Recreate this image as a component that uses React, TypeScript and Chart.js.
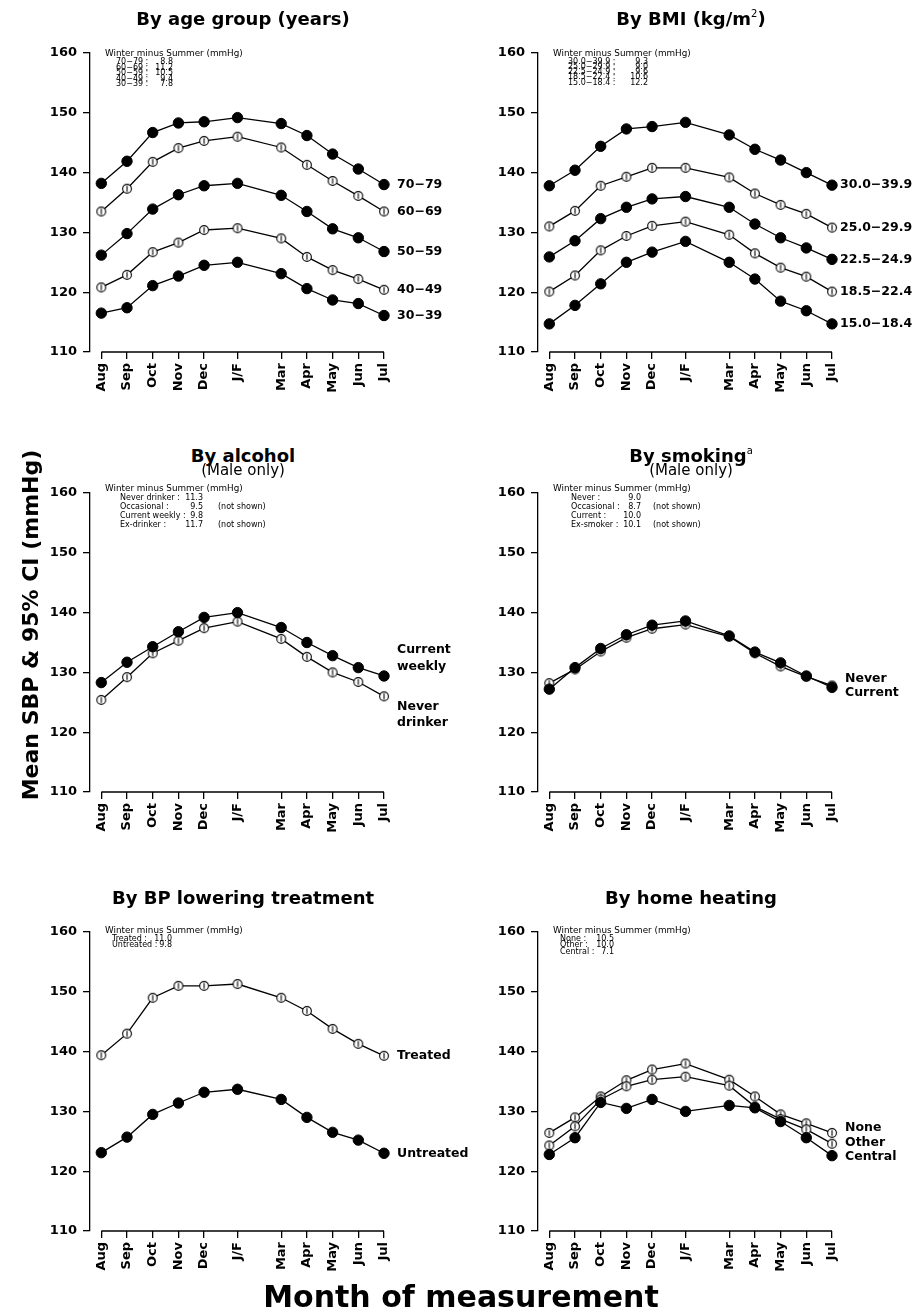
import React, { useEffect, useRef } from "react";
import { Chart, registerables } from "chart.js";

Chart.register(...registerables);

const FONT = "'DejaVu Sans', sans-serif";

// ---------- categories / ticks ----------
const months = ["Aug", "Sep", "Oct", "Nov", "Dec", "J/F", "Mar", "Apr", "May", "Jun", "Jul"];
const monthPos = [8, 9, 10, 11, 12, 13.3, 15, 16, 17, 18, 19];
const yTicks = [110, 120, 130, 140, 150, 160];

// ---------- by age group ----------
const age7079 = [138.2, 141.9, 146.7, 148.3, 148.5, 149.2, 148.2, 146.2, 143.1, 140.6, 138.0];
const age6069 = [133.5, 137.3, 141.8, 144.1, 145.3, 146.0, 144.2, 141.3, 138.6, 136.1, 133.5];
const age5059 = [126.2, 129.8, 133.9, 136.3, 137.8, 138.2, 136.2, 133.5, 130.6, 129.1, 126.8];
const age4049 = [120.8, 122.9, 126.7, 128.3, 130.4, 130.7, 129.0, 125.9, 123.7, 122.2, 120.4];
const age3039 = [116.5, 117.4, 121.1, 122.7, 124.5, 125.0, 123.1, 120.6, 118.7, 118.1, 116.1];
const ageDiff = [8.8, 11.2, 10.5, 9.4, 7.8];

// ---------- by BMI ----------
const bmi300 = [137.8, 140.4, 144.4, 147.3, 147.7, 148.4, 146.3, 143.9, 142.1, 140.0, 137.9];
const bmi250 = [131.0, 133.6, 137.8, 139.3, 140.8, 140.8, 139.2, 136.5, 134.6, 133.1, 130.8];
const bmi225 = [125.9, 128.6, 132.3, 134.2, 135.6, 136.0, 134.2, 131.4, 129.1, 127.4, 125.5];
const bmi185 = [120.1, 122.8, 127.0, 129.4, 131.1, 131.8, 129.6, 126.5, 124.1, 122.6, 120.1];
const bmi150 = [114.7, 117.8, 121.4, 125.0, 126.7, 128.5, 125.0, 122.2, 118.5, 116.9, 114.7];
const bmiDiff = [9.3, 9.0, 9.6, 10.6, 12.2];

// ---------- by alcohol ----------
const alcCurrentWeekly = [128.3, 131.7, 134.3, 136.8, 139.2, 140.0, 137.5, 135.0, 132.8, 130.8, 129.4];
const alcNeverDrinker = [125.4, 129.2, 133.2, 135.3, 137.4, 138.5, 135.6, 132.6, 130.0, 128.4, 126.0];
const alcDiff = [11.3, 9.5, 9.8, 11.7];

// ---------- by smoking ----------
const smkNever = [128.2, 130.5, 133.5, 135.8, 137.3, 138.0, 136.0, 133.2, 131.0, 129.3, 127.8];
const smkCurrent = [127.2, 130.8, 134.0, 136.3, 137.9, 138.6, 136.1, 133.4, 131.6, 129.4, 127.5];
const smkDiff = [9.0, 8.7, 10.0, 10.1];

// ---------- by BP lowering treatment ----------
const bpTreated = [139.4, 143.0, 149.0, 151.0, 151.0, 151.3, 149.0, 146.8, 143.8, 141.3, 139.3];
const bpUntreated = [123.1, 125.7, 129.5, 131.4, 133.2, 133.7, 132.0, 129.0, 126.5, 125.2, 123.0];
const bpDiff = [11.0, 9.8];

// ---------- by home heating ----------
const heatNone = [126.4, 129.0, 132.5, 135.2, 137.0, 138.0, 135.3, 132.5, 129.5, 128.0, 126.4];
const heatOther = [124.3, 127.5, 132.0, 134.2, 135.3, 135.8, 134.3, 130.8, 128.7, 127.0, 124.6];
const heatCentral = [122.8, 125.6, 131.5, 130.5, 132.0, 130.0, 131.0, 130.6, 128.3, 125.6, 122.6];
const heatDiff = [10.5, 10.0, 7.1];

// ---------- layout constants ----------
const COL_AXIS = [90, 538];
const ROW_TOP = [53, 492.5, 932];
const PLOT_H = 299;
const X_MIN = 7.56;
const X_MAX = 19.44;
const PX_PER_UNIT = 25.7;
const PLOT_W = (X_MAX - X_MIN) * PX_PER_UNIT;
const CANVAS_W = [530, 475];
const CANVAS_H = 390;
const TOP_PAD = 25;
const Y_AXIS_W = 44;
const X_AXIS_H = 60;

type Line = { values: number[]; filled: boolean };
type EndLabel = { text: string; at: number };
type NoteRow = { label: string; value: number; note?: string };
type Panel = {
  col: number;
  row: number;
  lines: Line[];
  endLabels: EndLabel[];
  endDx: number;
  rows: NoteRow[];
  labelDx: number;
  valDx: number;
  noteDx: number;
  headDy: number;
  rowDy: number;
  rowStep: number;
};

const last = (a: number[]) => a[a.length - 1];

const panels: Panel[] = [
  {
    col: 0, row: 0,
    lines: [
      { values: age7079, filled: true },
      { values: age6069, filled: false },
      { values: age5059, filled: true },
      { values: age4049, filled: false },
      { values: age3039, filled: true },
    ],
    endLabels: [
      { text: "70\u221279", at: last(age7079) },
      { text: "60\u221269", at: last(age6069) },
      { text: "50\u221259", at: last(age5059) },
      { text: "40\u221249", at: last(age4049) },
      { text: "30\u221239", at: last(age3039) },
    ],
    endDx: 13,
    rows: [
      { label: "70\u221279", value: ageDiff[0] },
      { label: "60\u221269", value: ageDiff[1] },
      { label: "50\u221259", value: ageDiff[2] },
      { label: "40\u221249", value: ageDiff[3] },
      { label: "30\u221239", value: ageDiff[4] },
    ],
    labelDx: 26, valDx: 83, noteDx: 0, headDy: 0, rowDy: 9, rowStep: 5.6,
  },
  {
    col: 1, row: 0,
    lines: [
      { values: bmi300, filled: true },
      { values: bmi250, filled: false },
      { values: bmi225, filled: true },
      { values: bmi185, filled: false },
      { values: bmi150, filled: true },
    ],
    endLabels: [
      { text: "30.0\u221239.9", at: last(bmi300) },
      { text: "25.0\u221229.9", at: last(bmi250) },
      { text: "22.5\u221224.9", at: last(bmi225) },
      { text: "18.5\u221222.4", at: last(bmi185) },
      { text: "15.0\u221218.4", at: last(bmi150) },
    ],
    endDx: 8,
    rows: [
      { label: "30.0\u221239.9", value: bmiDiff[0] },
      { label: "25.0\u221229.9", value: bmiDiff[1] },
      { label: "22.5\u221224.9", value: bmiDiff[2] },
      { label: "18.5\u221222.4", value: bmiDiff[3] },
      { label: "15.0\u221218.4", value: bmiDiff[4] },
    ],
    labelDx: 30, valDx: 110, noteDx: 0, headDy: 0, rowDy: 8.5, rowStep: 5.3,
  },
  {
    col: 0, row: 1,
    lines: [
      { values: alcCurrentWeekly, filled: true },
      { values: alcNeverDrinker, filled: false },
    ],
    endLabels: [
      { text: "Current", at: 133.8 },
      { text: "weekly", at: 131.0 },
      { text: "Never", at: 124.3 },
      { text: "drinker", at: 121.6 },
    ],
    endDx: 13,
    rows: [
      { label: "Never drinker", value: alcDiff[0] },
      { label: "Occasional", value: alcDiff[1], note: "(not shown)" },
      { label: "Current weekly", value: alcDiff[2] },
      { label: "Ex-drinker", value: alcDiff[3], note: "(not shown)" },
    ],
    labelDx: 30, valDx: 113, noteDx: 128, headDy: -4.5, rowDy: 5.2, rowStep: 9.2,
  },
  {
    col: 1, row: 1,
    lines: [
      { values: smkCurrent, filled: true },
      { values: smkNever, filled: false },
    ],
    endLabels: [
      { text: "Never", at: 128.9 },
      { text: "Current", at: 126.6 },
    ],
    endDx: 13,
    rows: [
      { label: "Never", value: smkDiff[0] },
      { label: "Occasional", value: smkDiff[1], note: "(not shown)" },
      { label: "Current", value: smkDiff[2] },
      { label: "Ex-smoker", value: smkDiff[3], note: "(not shown)" },
    ],
    labelDx: 33, valDx: 103, noteDx: 115, headDy: -4.5, rowDy: 5.2, rowStep: 9.2,
  },
  {
    col: 0, row: 2,
    lines: [
      { values: bpTreated, filled: false },
      { values: bpUntreated, filled: true },
    ],
    endLabels: [
      { text: "Treated", at: last(bpTreated) },
      { text: "Untreated", at: last(bpUntreated) },
    ],
    endDx: 13,
    rows: [
      { label: "Treated", value: bpDiff[0] },
      { label: "Untreated", value: bpDiff[1] },
    ],
    labelDx: 22, valDx: 82, noteDx: 0, headDy: -2, rowDy: 6.5, rowStep: 6.5,
  },
  {
    col: 1, row: 2,
    lines: [
      { values: heatCentral, filled: true },
      { values: heatOther, filled: false },
      { values: heatNone, filled: false },
    ],
    endLabels: [
      { text: "None", at: 127.2 },
      { text: "Other", at: 124.8 },
      { text: "Central", at: 122.4 },
    ],
    endDx: 13,
    rows: [
      { label: "None", value: heatDiff[0] },
      { label: "Other", value: heatDiff[1] },
      { label: "Central", value: heatDiff[2] },
    ],
    labelDx: 22, valDx: 76, noteDx: 0, headDy: -2, rowDy: 6.5, rowStep: 6.5,
  },
];

function makeOpenMarker(): HTMLCanvasElement {
  const c = document.createElement("canvas");
  c.width = 12;
  c.height = 12;
  const g = c.getContext("2d")!;
  g.beginPath();
  g.arc(6, 6, 4.4, 0, Math.PI * 2);
  g.fillStyle = "#fff";
  g.fill();
  g.lineWidth = 1.1;
  g.strokeStyle = "#000";
  g.stroke();
  g.beginPath();
  g.moveTo(6, 3.3);
  g.lineTo(6, 8.7);
  g.lineWidth = 1.1;
  g.stroke();
  return c;
}

const xAxisLinePlugin = {
  id: "xAxisLine",
  afterDraw(chart: any) {
    const { ctx, chartArea } = chart;
    const x = chart.scales.x;
    ctx.save();
    ctx.strokeStyle = "#000";
    ctx.lineWidth = 1.3;
    ctx.beginPath();
    ctx.moveTo(x.getPixelForValue(monthPos[0]), chartArea.bottom);
    ctx.lineTo(x.getPixelForValue(monthPos[monthPos.length - 1]), chartArea.bottom);
    ctx.stroke();
    ctx.restore();
  },
};

const endLabelsPlugin = {
  id: "endLabels",
  afterDatasetsDraw(chart: any, _args: any, opts: any) {
    const { ctx } = chart;
    const x = chart.scales.x;
    const y = chart.scales.y;
    ctx.save();
    ctx.fillStyle = "#000";
    ctx.font = `bold 12.5px ${FONT}`;
    ctx.textBaseline = "middle";
    ctx.textAlign = "left";
    const x0 = x.getPixelForValue(monthPos[monthPos.length - 1]) + (opts.dx || 0);
    for (const it of opts.items || []) {
      ctx.fillText(it.text, x0, y.getPixelForValue(it.at));
    }
    ctx.restore();
  },
};

function PanelChart({ p }: { p: Panel }) {
  const ref = useRef<HTMLCanvasElement>(null);
  const W = CANVAS_W[p.col];
  const left = COL_AXIS[p.col] - 90;
  const top = ROW_TOP[p.row] - TOP_PAD;

  useEffect(() => {
    const openImg = makeOpenMarker();
    const datasets = p.lines.map((l) => ({
      data: monthPos.map((x, i) => ({ x, y: l.values[i] })),
      borderColor: "#000",
      borderWidth: 1.3,
      backgroundColor: l.filled ? "#000" : "#fff",
      pointBackgroundColor: l.filled ? "#000" : "#fff",
      pointBorderColor: "#000",
      pointBorderWidth: 1,
      pointStyle: l.filled ? "circle" : (openImg as any),
      pointRadius: l.filled ? 5.2 : 4.5,
      tension: 0,
      fill: false,
      clip: false as any,
    }));
    const chart = new Chart(ref.current!, {
      type: "line",
      data: { datasets: datasets as any },
      plugins: [xAxisLinePlugin, endLabelsPlugin],
      options: {
        animation: false,
        responsive: false,
        maintainAspectRatio: false,
        devicePixelRatio: 1,
        events: [],
        layout: {
          padding: {
            left: 90 - Y_AXIS_W,
            top: TOP_PAD,
            right: W - 90 - PLOT_W,
            bottom: CANVAS_H - TOP_PAD - PLOT_H - X_AXIS_H,
          },
        },
        plugins: {
          legend: { display: false },
          tooltip: { enabled: false },
          title: { display: false },
          endLabels: { items: p.endLabels, dx: p.endDx },
        } as any,
        scales: {
          x: {
            type: "linear",
            min: X_MIN,
            max: X_MAX,
            afterBuildTicks: (s: any) => {
              s.ticks = monthPos.map((v) => ({ value: v }));
            },
            afterFit: (s: any) => {
              s.height = X_AXIS_H;
            },
            ticks: {
              autoSkip: false,
              minRotation: 90,
              maxRotation: 90,
              padding: 4,
              color: "#000",
              font: { family: FONT, size: 13, weight: "bold" },
              callback: (_v: any, i: number) => months[i],
            },
            grid: { drawOnChartArea: false, drawTicks: true, tickLength: 7, color: "#000", lineWidth: 1.3 },
            border: { display: false },
          },
          y: {
            type: "linear",
            min: 110,
            max: 160,
            afterBuildTicks: (s: any) => {
              s.ticks = yTicks.map((v) => ({ value: v }));
            },
            afterFit: (s: any) => {
              s.width = Y_AXIS_W;
            },
            ticks: {
              padding: 6,
              color: "#000",
              font: { family: FONT, size: 13, weight: "bold" },
            },
            grid: { drawOnChartArea: false, drawTicks: true, tickLength: 7, color: "#000", lineWidth: 1.3 },
            border: { display: true, color: "#000", width: 1.3 },
          },
        } as any,
      },
    });
    return () => chart.destroy();
  }, []);

  return (
    <canvas
      ref={ref}
      width={W}
      height={CANVAS_H}
      style={{ position: "absolute", left, top, width: W, height: CANVAS_H }}
    />
  );
}

function Annotation({ p }: { p: Panel }) {
  const ax = COL_AXIS[p.col];
  const r = ROW_TOP[p.row];
  const els: React.ReactNode[] = [];
  const txt = (key: string, x: number, cy: number, s: string, size: number, align: "left" | "right" = "left") => {
    const lh = 10;
    const style: React.CSSProperties = {
      position: "absolute",
      top: cy - lh / 2,
      fontFamily: FONT,
      fontSize: size,
      lineHeight: `${lh}px`,
      whiteSpace: "pre",
      color: "#000",
    };
    if (align === "left") style.left = x;
    else {
      style.left = x - 60;
      style.width = 60;
      style.textAlign = "right";
    }
    els.push(
      <div key={key} style={style}>
        {s}
      </div>
    );
  };
  txt("h", ax + 15, r + p.headDy, "Winter minus Summer (mmHg)", 8.8);
  p.rows.forEach((row, i) => {
    const cy = r + p.rowDy + i * p.rowStep;
    txt("l" + i, ax + p.labelDx, cy, row.label + " :", 8);
    txt("v" + i, ax + p.valDx, cy, row.value.toFixed(1), 8, "right");
    if (row.note) txt("n" + i, ax + p.noteDx, cy, row.note, 8);
  });
  return <>{els}</>;
}

function Title({ cx, cy, children, size = 18, bold = true }: any) {
  return (
    <div
      style={{
        position: "absolute",
        left: cx - 250,
        width: 500,
        top: cy - 12,
        lineHeight: "24px",
        textAlign: "center",
        fontFamily: FONT,
        fontSize: size,
        fontWeight: bold ? "bold" : "normal",
        color: "#000",
        whiteSpace: "pre",
      }}
    >
      {children}
    </div>
  );
}

const sup: React.CSSProperties = { fontSize: 10, position: "relative", top: -8, fontWeight: "normal" };

export default function App() {
  const c0 = COL_AXIS[0] + 153;
  const c1 = COL_AXIS[1] + 153;
  return (
    <div
      style={{
        position: "absolute",
        left: 0,
        top: 0,
        width: 923,
        height: 1316,
        background: "#fff",
        overflow: "hidden",
      }}
    >
      {panels.map((p, i) => (
        <PanelChart key={"c" + i} p={p} />
      ))}
      {panels.map((p, i) => (
        <Annotation key={"a" + i} p={p} />
      ))}

      <Title cx={c0} cy={19}>By age group (years)</Title>
      <Title cx={c1} cy={19}>
        By BMI (kg/m<span style={sup}>2</span>)
      </Title>

      <Title cx={c0} cy={456}>By alcohol</Title>
      <Title cx={c0} cy={470} size={15} bold={false}>(Male only)</Title>
      <Title cx={c1} cy={456}>
        By smoking<span style={sup}>a</span>
      </Title>
      <Title cx={c1} cy={470} size={15} bold={false}>(Male only)</Title>

      <Title cx={c0} cy={898}>By BP lowering treatment</Title>
      <Title cx={c1} cy={898}>By home heating</Title>

      <div
        style={{
          position: "absolute",
          left: 31 - 250,
          top: 625 - 16,
          width: 500,
          height: 32,
          lineHeight: "32px",
          textAlign: "center",
          fontFamily: FONT,
          fontSize: 22,
          fontWeight: "bold",
          color: "#000",
          transform: "rotate(-90deg)",
          whiteSpace: "pre",
        }}
      >
        Mean SBP &amp; 95% CI (mmHg)
      </div>
      <div
        style={{
          position: "absolute",
          left: 461 - 300,
          top: 1297 - 20,
          width: 600,
          height: 40,
          lineHeight: "40px",
          textAlign: "center",
          fontFamily: FONT,
          fontSize: 30,
          fontWeight: "bold",
          color: "#000",
          whiteSpace: "pre",
        }}
      >
        Month of measurement
      </div>
    </div>
  );
}
